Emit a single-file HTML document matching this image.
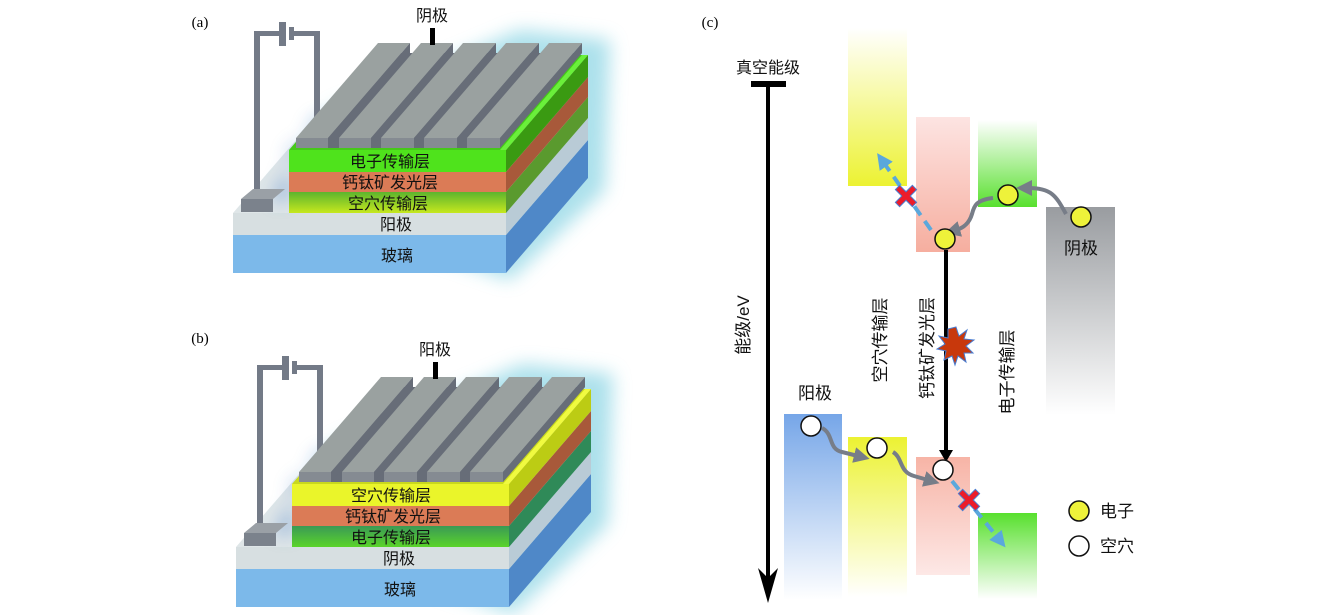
<!DOCTYPE html>
<html><head><meta charset="utf-8"><style>
html,body{margin:0;padding:0;background:#fff;}
svg{display:block;}
text{font-family:"Liberation Serif","Noto Sans CJK SC",serif;}
.cj{font-family:"Liberation Sans","Noto Sans CJK SC",sans-serif;font-size:16px;fill:#111;}
.vj{font-family:"Liberation Sans","Noto Sans CJK SC",sans-serif;font-size:17px;fill:#111;}
</style></head><body>
<svg width="1339" height="615" viewBox="0 0 1339 615" xmlns="http://www.w3.org/2000/svg">
<defs>
<filter id="blur" x="-30%" y="-30%" width="160%" height="160%"><feGaussianBlur stdDeviation="9"/></filter>
<linearGradient id="htlA" x1="0" y1="0" x2="0" y2="1"><stop offset="0" stop-color="#5cb52e"/><stop offset="1" stop-color="#c6e81e"/></linearGradient>
<linearGradient id="etlB" x1="0" y1="0" x2="0" y2="1"><stop offset="0" stop-color="#3a9a55"/><stop offset="1" stop-color="#5ad42a"/></linearGradient>
<linearGradient id="gY" x1="0" y1="0" x2="0" y2="1"><stop offset="0" stop-color="#ffffff"/><stop offset="1" stop-color="#ecf232"/></linearGradient>
<linearGradient id="gP" x1="0" y1="0" x2="0" y2="1"><stop offset="0" stop-color="#fde4e2"/><stop offset="1" stop-color="#f6ae9f"/></linearGradient>
<linearGradient id="gG" x1="0" y1="0" x2="0" y2="1"><stop offset="0" stop-color="#ffffff"/><stop offset="1" stop-color="#58e02e"/></linearGradient>
<linearGradient id="gK" x1="0" y1="0" x2="0" y2="1"><stop offset="0" stop-color="#999ca0"/><stop offset="1" stop-color="#ffffff"/></linearGradient>
<linearGradient id="gB" x1="0" y1="0" x2="0" y2="1"><stop offset="0" stop-color="#76a6e8"/><stop offset="1" stop-color="#ffffff"/></linearGradient>
<linearGradient id="gY2" x1="0" y1="0" x2="0" y2="1"><stop offset="0" stop-color="#ecf232"/><stop offset="1" stop-color="#ffffff"/></linearGradient>
<linearGradient id="gP2" x1="0" y1="0" x2="0" y2="1"><stop offset="0" stop-color="#f7b4a6"/><stop offset="1" stop-color="#fde8e6"/></linearGradient>
<linearGradient id="gG2" x1="0" y1="0" x2="0" y2="1"><stop offset="0" stop-color="#58e02e"/><stop offset="1" stop-color="#ffffff"/></linearGradient>
<marker id="mg" markerWidth="4" markerHeight="4" refX="1" refY="2" orient="auto" markerUnits="strokeWidth"><path d="M0,0 L4,2 L0,4 Z" fill="#777d88"/></marker>
<marker id="mb" markerWidth="4" markerHeight="4" refX="1" refY="2" orient="auto" markerUnits="strokeWidth"><path d="M0,0 L4,2 L0,4 Z" fill="#5aa8dc"/></marker>

<g id="base">
  <polygon points="280,200 330,110 520,30 610,40 605,190 510,280" fill="#9edbe8" filter="url(#blur)" opacity="0.85"/>
  <rect x="233" y="235" width="273" height="38" fill="#7cb9ea"/>
  <polygon points="506,235 588,140 588,178 506,273" fill="#4f88c8"/>
  <polygon points="233,213 506,213 588,118 315,118" fill="#dfe6e8"/>
  <rect x="233" y="213" width="273" height="22" fill="#d7dfe1"/>
  <polygon points="506,213 588,118 588,140 506,235" fill="#b9cbd6"/>
  <polygon points="272,200 289,200 289,150 330,118 315,118" fill="#3f78c8" opacity="0.55" filter="url(#blur)"/>
  <rect x="254" y="31" width="6" height="170" fill="#737a87"/>
  <rect x="254" y="31" width="27" height="5" fill="#737a87"/>
  <rect x="289" y="31" width="31" height="5" fill="#737a87"/>
  <rect x="279" y="22" width="7" height="24" fill="#737a87"/>
  <rect x="289" y="27" width="5" height="13" fill="#737a87"/>
  <rect x="314" y="31" width="6" height="103" fill="#737a87"/>
  <polygon points="241,199 273,199 285,189 253,189" fill="#9aa0a6"/>
  <rect x="241" y="199" width="32" height="13" fill="#7b828c"/>
</g>
<g id="stripes">
  <polygon points="296,148 500,148 582,53 378,53" fill="#676d78"/>
  <polygon points="296,138 328,138 410,43 378,43" fill="#9aa1a0"/>
  <polygon points="328,138 410,43 410,53 328,148" fill="#676d78"/>
  <rect x="296" y="138" width="32" height="10" fill="#858b92"/>
  <polygon points="339,138 371,138 453,43 421,43" fill="#9aa1a0"/>
  <polygon points="371,138 453,43 453,53 371,148" fill="#676d78"/>
  <rect x="339" y="138" width="32" height="10" fill="#858b92"/>
  <polygon points="381,138 414,138 496,43 463,43" fill="#9aa1a0"/>
  <polygon points="414,138 496,43 496,53 414,148" fill="#676d78"/>
  <rect x="381" y="138" width="33" height="10" fill="#858b92"/>
  <polygon points="424,138 457,138 539,43 506,43" fill="#9aa1a0"/>
  <polygon points="457,138 539,43 539,53 457,148" fill="#676d78"/>
  <rect x="424" y="138" width="33" height="10" fill="#858b92"/>
  <polygon points="467,138 500,138 582,43 549,43" fill="#9aa1a0"/>
  <polygon points="500,138 582,43 582,53 500,148" fill="#676d78"/>
  <rect x="467" y="138" width="33" height="10" fill="#858b92"/>
</g>
</defs>

<!-- ===== Panel (a) ===== -->
<use href="#base"/>
<rect x="289" y="192" width="217" height="21" fill="url(#htlA)"/>
<polygon points="506,192 588,97 588,118 506,213" fill="#5a9a2e"/>
<rect x="289" y="172" width="217" height="20" fill="#db7b56"/>
<polygon points="506,172 588,77 588,97 506,192" fill="#a8593a"/>
<polygon points="289,150 506,150 588,55 371,55" fill="#46c81a"/>
<rect x="289" y="150" width="217" height="22" fill="#4fe31c"/>
<polygon points="506,150 588,55 588,77 506,172" fill="#3a9a12"/>
<polygon points="500,150 506,150 588,55 582,55" fill="#6af03a"/>
<use href="#stripes"/>
<text x="200" y="27" font-size="15" text-anchor="middle">(a)</text>
<text class="cj" x="432" y="21" text-anchor="middle">阴极</text>
<rect x="430" y="28" width="5" height="17" fill="#000"/>
<text class="cj" x="390" y="167" text-anchor="middle">电子传输层</text>
<text class="cj" x="390" y="188" text-anchor="middle">钙钛矿发光层</text>
<text class="cj" x="388" y="209" text-anchor="middle">空穴传输层</text>
<text class="cj" x="396" y="230" text-anchor="middle">阳极</text>
<text class="cj" x="397" y="261" text-anchor="middle">玻璃</text>

<!-- ===== Panel (b) ===== -->
<g transform="translate(3,334)">
<use href="#base"/>
<rect x="289" y="192" width="217" height="21" fill="url(#etlB)"/>
<polygon points="506,192 588,97 588,118 506,213" fill="#2f8a58"/>
<rect x="289" y="172" width="217" height="20" fill="#db7b56"/>
<polygon points="506,172 588,77 588,97 506,192" fill="#a8593a"/>
<polygon points="289,150 506,150 588,55 371,55" fill="#c8d81e"/>
<rect x="289" y="150" width="217" height="22" fill="#eaf52a"/>
<polygon points="506,150 588,55 588,77 506,172" fill="#bccc14"/>
<polygon points="500,150 506,150 588,55 582,55" fill="#f0fa40"/>
<use href="#stripes"/>
<text class="cj" x="432" y="21" text-anchor="middle">阳极</text>
<rect x="430" y="28" width="5" height="17" fill="#000"/>
<text class="cj" x="388" y="167" text-anchor="middle">空穴传输层</text>
<text class="cj" x="390" y="188" text-anchor="middle">钙钛矿发光层</text>
<text class="cj" x="388" y="209" text-anchor="middle">电子传输层</text>
<text class="cj" x="396" y="230" text-anchor="middle">阴极</text>
<text class="cj" x="397" y="261" text-anchor="middle">玻璃</text>
</g>
<text x="200" y="343" font-size="15" text-anchor="middle">(b)</text>

<!-- ===== Panel (c) ===== -->
<text x="710" y="27" font-size="15" text-anchor="middle">(c)</text>
<text class="cj" x="768" y="73" text-anchor="middle">真空能级</text>
<rect x="751" y="81" width="35" height="6" fill="#000"/>
<rect x="766" y="84" width="4" height="495" fill="#000"/>
<polygon points="758,568 768,578 778,568 768,603" fill="#000"/>
<text class="vj" transform="translate(749,325) rotate(-90)" text-anchor="middle">能级/eV</text>

<rect x="848" y="28" width="59" height="158" fill="url(#gY)"/>
<rect x="916" y="117" width="54" height="135" fill="url(#gP)"/>
<rect x="978" y="120" width="59" height="87" fill="url(#gG)"/>
<rect x="1046" y="207" width="69" height="208" fill="url(#gK)"/>
<text class="vj" x="1081" y="254" text-anchor="middle">阴极</text>

<rect x="784" y="414" width="58" height="186" fill="url(#gB)"/>
<rect x="848" y="437" width="59" height="160" fill="url(#gY2)"/>
<rect x="916" y="457" width="54" height="118" fill="url(#gP2)"/>
<rect x="978" y="513" width="59" height="86" fill="url(#gG2)"/>
<text class="vj" x="815" y="399" text-anchor="middle">阳极</text>

<text class="vj" transform="translate(886,340) rotate(-90)" text-anchor="middle">空穴传输层</text>
<text class="vj" transform="translate(933,348) rotate(-90)" text-anchor="middle">钙钛矿发光层</text>
<text class="vj" transform="translate(1013,372) rotate(-90)" text-anchor="middle">电子传输层</text>

<rect x="944" y="250" width="4" height="205" fill="#000"/>
<polygon points="939,450 946,462 953,450" fill="#000"/>
<polygon points="956,327 959,336 967,330 964,339 974,340 966,346 973,353 964,353 966,362 958,356 955,365 952,356 944,360 946,351 937,349 945,344 939,336 948,338 948,329" fill="#c8380c" stroke="#4a7cd0" stroke-width="1"/>

<path d="M1066,214 C1056,196 1052,188 1028,188" stroke="#777d88" stroke-width="4" fill="none" marker-end="url(#mg)"/>
<path d="M993,198 C976,200 974,206 972,214 C969,224 963,228 956,230" stroke="#777d88" stroke-width="4" fill="none" marker-end="url(#mg)"/>
<path d="M931,230 L884,163" stroke="#5aa8dc" stroke-width="4" stroke-dasharray="11,7" fill="none" marker-end="url(#mb)"/>
<path d="M822,428 C834,434 828,449 842,452 L858,456" stroke="#777d88" stroke-width="4" fill="none" marker-end="url(#mg)"/>
<path d="M893,452 C903,458 899,472 914,476 L928,480" stroke="#777d88" stroke-width="4" fill="none" marker-end="url(#mg)"/>
<path d="M952,481 L998,538" stroke="#5aa8dc" stroke-width="4" stroke-dasharray="11,7" fill="none" marker-end="url(#mb)"/>

<g transform="translate(906,196) rotate(45)"><path d="M-3,-12 H3 V-3 H12 V3 H3 V12 H-3 V3 H-12 V-3 H-3 Z" fill="#ec1c2a" stroke="#4a7cd0" stroke-width="1"/></g>
<g transform="translate(969,500) rotate(45)"><path d="M-3,-12 H3 V-3 H12 V3 H3 V12 H-3 V3 H-12 V-3 H-3 Z" fill="#ec1c2a" stroke="#4a7cd0" stroke-width="1"/></g>

<circle cx="1008" cy="195" r="10" fill="#eef23a" stroke="#111" stroke-width="1.5"/>
<circle cx="1081" cy="217" r="10" fill="#eef23a" stroke="#111" stroke-width="1.5"/>
<circle cx="945" cy="239" r="10" fill="#eef23a" stroke="#111" stroke-width="1.5"/>
<circle cx="811" cy="426" r="10" fill="#fff" stroke="#111" stroke-width="1.5"/>
<circle cx="877" cy="448" r="10" fill="#fff" stroke="#111" stroke-width="1.5"/>
<circle cx="943" cy="470" r="10" fill="#fff" stroke="#111" stroke-width="1.5"/>

<circle cx="1079" cy="511" r="10" fill="#eef23a" stroke="#111" stroke-width="1.5"/>
<text class="vj" x="1100" y="517">电子</text>
<circle cx="1079" cy="546" r="10" fill="#fff" stroke="#111" stroke-width="1.5"/>
<text class="vj" x="1100" y="552">空穴</text>
</svg>
</body></html>
